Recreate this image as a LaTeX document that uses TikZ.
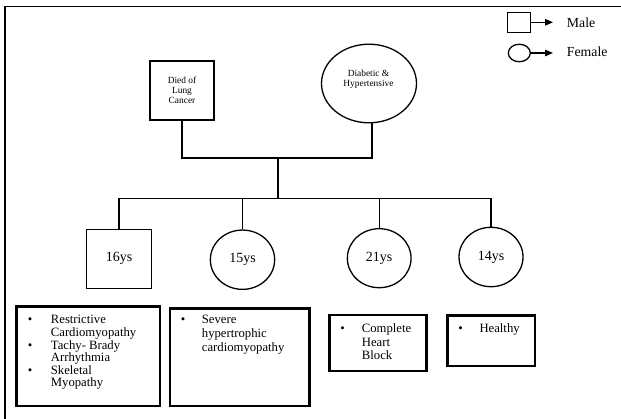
\documentclass[tikz,border=0pt]{standalone}
\usepackage{fontspec}
\setmainfont{Liberation Serif}
\usetikzlibrary{arrows.meta,shapes.geometric}
\tikzset{
  ln/.style={line width=1.3pt, draw=black},
  malebox/.style={ln, rectangle, inner sep=0pt, align=center},
  femalebox/.style={ln, ellipse, inner sep=0pt, align=center},
  infobox/.style={draw=black, line width=2.7pt, rectangle, inner sep=0pt},
  infotext/.style={font=\fontsize{12.7}{13}\selectfont, inner sep=0pt, anchor=base west},
  bul/.style={font=\fontsize{12.7}{13}\selectfont, inner sep=0pt, anchor=base},
  smalltext/.style={font=\fontsize{9.4}{10}\selectfont, align=center, inner sep=0pt},
  agetext/.style={font=\fontsize{14}{15}\selectfont},
  legtext/.style={font=\fontsize{13.8}{14}\selectfont, inner sep=0pt, anchor=base west},
  legarrow/.style={line width=1.3pt, -{Triangle[length=8pt,width=6.5pt]}}
}
\begin{document}
\begin{tikzpicture}[x=1pt,y=-1pt]
\useasboundingbox (0,0) rectangle (621,419);
\fill[white] (0,0) rectangle (621,419);
% frame
\coordinate (fr1) at (621,6.7);
\coordinate (fr2) at (5,6.7);
\coordinate (fr3) at (5,419);
\draw[line width=1.4pt] (fr1) -- (fr2) -- (fr3);

% legend
\node[malebox, minimum width=23pt, minimum height=20pt] (lm) at (519.3,22.3) {};
\node[femalebox, minimum width=22pt, minimum height=17.5pt] (lf) at (519.3,53) {};
\coordinate (lma) at (553,22.3);
\coordinate (lfa) at (553,53);
\draw[legarrow] (lm.east) -- (lma);
\draw[legarrow] (lf.east) -- (lfa);
\node[legtext] (lmt) at (566.7,27.5) {Male};
\node[legtext] (lft) at (566.7,57) {Female};

% parents
\node[malebox, smalltext, minimum width=64pt, minimum height=59pt] (father) at (182,90.5) {Died of\\Lung\\Cancer};
\node[femalebox, minimum width=95pt, minimum height=78.6pt] (mother) at (369,83.5) {};
\node[smalltext] (mtext) at (368.5,79.5) {Diabetic \&\\Hypertensive};

\coordinate (fj) at (182,158);
\coordinate (mj) at (372,158);
\coordinate (cm) at (278,158);
\coordinate (sb) at (278,198.3);
\draw[ln] (father.south) -- (fj) -- (mj) -- (mother.south -| mj);
\draw[ln] (cm) -- (sb);

% children
\node[malebox, agetext, minimum width=65.4pt, minimum height=59pt] (c1) at (119,258.8) {16ys};
\node[femalebox, agetext, minimum width=64.3pt, minimum height=59.3pt] (c2) at (242.5,259.7) {15ys};
\node[femalebox, agetext, minimum width=63.7pt, minimum height=59pt] (c3) at (379.2,258.2) {21ys};
\node[femalebox, agetext, minimum width=64pt, minimum height=59.4pt] (c4) at (491,257) {14ys};

\draw[ln] (c1.north) -- (c1.north |- sb) -- (c4.north |- sb) -- (c4.north);
\draw[ln] (c2.north) -- (c2.north |- sb);
\draw[ln] (c3.north) -- (c3.north |- sb);

% info boxes
\node[infobox, minimum width=143.3pt, minimum height=99.3pt] (b1) at (88.3,356.3) {};
\node[infobox, minimum width=139.3pt, minimum height=97.7pt] (b2) at (239.7,357.2) {};
\node[infobox, minimum width=97.4pt, minimum height=56pt] (b3) at (378,343) {};
\node[infobox, minimum width=87.7pt, minimum height=50.3pt] (b4) at (491.2,340.8) {};

% box 1 text
\node[bul] (b1b1) at (30,324) {\textbullet};
\node[infotext] (b1t1) at (50.7,324) {Restrictive};
\node[infotext] (b1t2) at (50.7,336.6) {Cardiomyopathy};
\node[bul] (b1b2) at (30,349.2) {\textbullet};
\node[infotext] (b1t3) at (50.7,349.2) {Tachy- Brady};
\node[infotext] (b1t4) at (50.7,361.8) {Arrhythmia};
\node[bul] (b1b3) at (30,374.4) {\textbullet};
\node[infotext] (b1t5) at (50.7,374.4) {Skeletal};
\node[infotext] (b1t6) at (50.7,387) {Myopathy};

% box 2 text
\node[bul] (b2b1) at (183,324) {\textbullet};
\node[infotext] (b2t1) at (201.7,324) {Severe};
\node[infotext] (b2t2) at (201.7,337.8) {hypertrophic};
\node[infotext] (b2t3) at (201.7,351.3) {cardiomyopathy};

% box 3 text
\node[bul] (b3b1) at (342.7,333) {\textbullet};
\node[infotext] (b3t1) at (361.7,333) {Complete};
\node[infotext] (b3t2) at (361.7,346.7) {Heart};
\node[infotext] (b3t3) at (361.7,360) {Block};

% box 4 text
\node[bul] (b4b1) at (460.7,333) {\textbullet};
\node[infotext] (b4t1) at (479.3,333) {Healthy};
\end{tikzpicture}
\end{document}
